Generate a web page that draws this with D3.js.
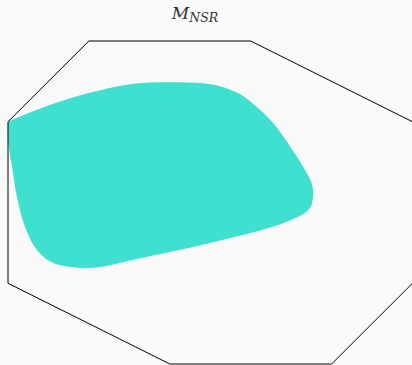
<!DOCTYPE html>
<html>
<head>
<meta charset="utf-8">
<script src="https://cdn.jsdelivr.net/npm/d3@7"></script>
<style>
  html, body { margin: 0; padding: 0; background: #fafafa; }
  svg { display: block; }
</style>
</head>
<body>
<div id="chart"></div>
<script>
// octagon outline (data units)
var octX = [-1.5, 0.5, 2.5, 2.5, 1.5, -0.5, -2.5, -2.5];
var octY = [2, 2, 1, -1, -2, -2, -1, 1];

// region boundary, clockwise from the left corner (data units)
var regionX = [-2.5, -2.19, -1.77, -1.36, -0.95, -0.53, -0.12, 0.12, 0.37, 0.58, 0.78, 0.99, 1.15, 1.26, 1.27, 1.24, 1.14, 0.99, 0.71, -0.12, -0.95, -1.36, -1.61, -1.94, -2.14, -2.29, -2.39, -2.45, -2.5];
var regionY = [1.0, 1.13, 1.28, 1.39, 1.47, 1.49, 1.48, 1.44, 1.34, 1.18, 0.98, 0.69, 0.44, 0.22, 0.07, -0.06, -0.15, -0.22, -0.32, -0.53, -0.71, -0.80, -0.81, -0.75, -0.59, -0.30, 0.07, 0.44, 0.77];

var width = 412, height = 365;

var svg = d3.select("#chart").append("svg")
    .attr("width", width)
    .attr("height", height);

svg.append("rect")
    .attr("width", width)
    .attr("height", height)
    .attr("fill", "#fafafa");

var x = d3.scaleLinear().domain([-2.5, 2.5]).range([8, 412.5]);
var y = d3.scaleLinear().domain([-2, 2]).range([364, 41]);

// filled region, sharp corner at the start point
var regionPts = regionX.map(function(d, i) { return [d, regionY[i]]; });
regionPts.push(regionPts[0]);
var regionLine = d3.line()
    .x(function(d) { return x(d[0]); })
    .y(function(d) { return y(d[1]); })
    .curve(d3.curveCatmullRom.alpha(0.5));

svg.append("path")
    .attr("d", regionLine(regionPts) + "Z")
    .attr("fill", "#40e0d0")
    .attr("stroke", "none");

// octagon
var octPts = octX.map(function(d, i) { return [x(d), y(octY[i])]; });
svg.append("path")
    .attr("d", d3.line().curve(d3.curveLinearClosed)(octPts))
    .attr("fill", "none")
    .attr("stroke", "#000")
    .attr("stroke-width", 1);

// title M_NSR
var title = svg.append("text")
    .attr("x", 195)
    .attr("y", 19)
    .attr("text-anchor", "middle")
    .attr("font-family", "DejaVu Serif, Liberation Serif, serif")
    .attr("font-style", "italic")
    .attr("font-size", 17)
    .attr("fill", "#333");
title.append("tspan").text("M");
title.append("tspan")
    .attr("font-size", 12.5)
    .attr("dy", 3)
    .text("NSR");
</script>
</body>
</html>
